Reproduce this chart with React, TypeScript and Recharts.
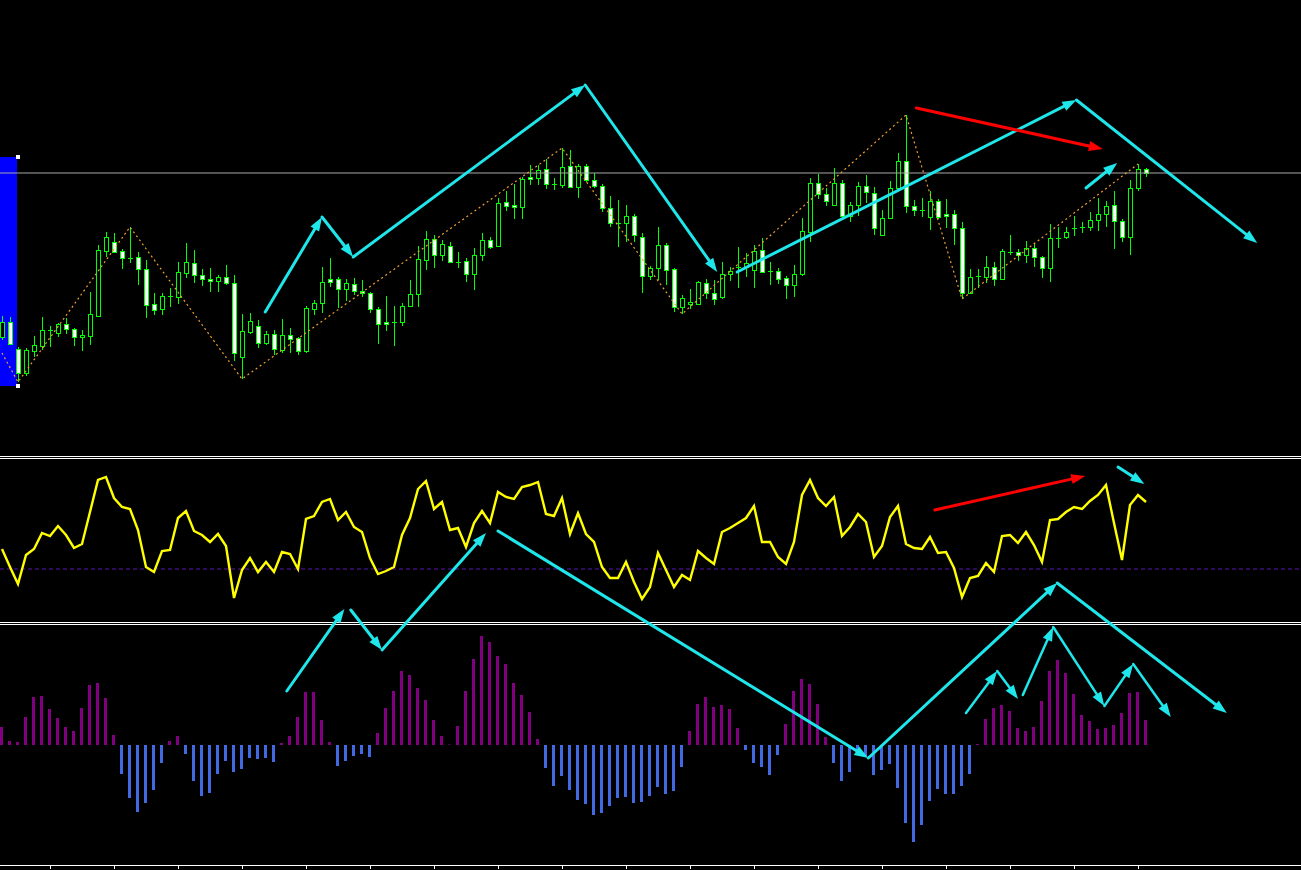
import React from "react"
import {
  ComposedChart,
  Bar,
  Line,
  XAxis,
  YAxis,
  Cell,
  ReferenceLine,
  ReferenceArea,
  ReferenceDot,
} from "recharts"

// price in points, one bar per entry
const openP = [
  118, 133, 106, 82, 104, 109, 125, 122, 131, 126,
  118, 119, 139, 204, 213, 204, 197, 198, 186, 151,
  146, 159, 158, 182, 192, 180, 176, 174, 178, 172,
  98, 123, 129, 112, 121, 105, 120, 117, 104, 146,
  152, 176, 176, 166, 171, 164, 162, 146, 133, 133,
  133, 149, 161, 195, 216, 200, 209, 193, 194, 181,
  200, 215, 209, 253, 250, 248, 278, 277, 286, 271,
  270, 289, 268, 289, 275, 269, 247, 232, 232, 239,
  218, 179, 187, 210, 186, 148, 151, 151, 172, 162,
  158, 181, 188, 188, 185, 205, 184, 184, 177, 170,
  181, 223, 272, 261, 250, 272, 239, 250, 269, 262,
  220, 237, 267, 294, 249, 245, 238, 254, 241, 241,
  227, 162, 179, 178, 188, 176, 203, 203, 200, 207,
  198, 187, 217, 218, 227, 228, 228, 235, 241, 250,
  234, 218, 267, 286,
]
const highP = [
  139, 138, 108, 107, 119, 138, 129, 132, 137, 127,
  125, 163, 210, 223, 222, 206, 228, 203, 195, 162,
  162, 167, 193, 212, 205, 186, 187, 180, 190, 180,
  141, 142, 135, 124, 125, 136, 127, 118, 149, 155,
  188, 197, 178, 176, 177, 175, 163, 148, 159, 149,
  152, 175, 209, 224, 220, 215, 213, 203, 197, 207,
  222, 218, 257, 264, 271, 278, 290, 290, 296, 277,
  307, 305, 291, 291, 282, 271, 259, 255, 250, 241,
  222, 189, 228, 212, 187, 160, 166, 174, 176, 175,
  193, 188, 208, 202, 210, 217, 193, 187, 179, 190,
  237, 277, 281, 267, 287, 275, 253, 273, 280, 268,
  245, 274, 302, 340, 255, 257, 264, 256, 256, 245,
  233, 186, 186, 199, 193, 206, 220, 206, 214, 211,
  199, 231, 228, 228, 239, 233, 243, 257, 254, 264,
  236, 275, 291, 287,
]
const lowP = [
  115, 110, 73, 79, 98, 105, 108, 118, 121, 109,
  104, 110, 138, 198, 202, 186, 192, 170, 137, 140,
  140, 148, 151, 177, 172, 169, 163, 163, 170, 94,
  76, 121, 107, 110, 100, 102, 102, 100, 102, 140,
  142, 168, 147, 154, 160, 158, 142, 111, 124, 109,
  129, 148, 148, 185, 187, 194, 192, 187, 173, 165,
  194, 206, 208, 244, 236, 236, 270, 270, 266, 265,
  267, 267, 257, 273, 267, 243, 228, 208, 213, 213,
  162, 175, 175, 170, 143, 141, 146, 150, 156, 150,
  156, 174, 167, 178, 167, 182, 170, 171, 156, 158,
  179, 213, 256, 249, 249, 237, 233, 239, 252, 220,
  220, 237, 267, 242, 239, 238, 225, 236, 227, 210,
  156, 161, 167, 172, 169, 175, 200, 194, 192, 188,
  177, 173, 207, 216, 219, 222, 224, 224, 228, 206,
  213, 200, 264, 278,
]
const closeP = [
  133, 111, 82, 105, 110, 125, 125, 131, 126, 118,
  120, 141, 205, 218, 203, 197, 197, 186, 150, 145,
  159, 159, 183, 193, 180, 176, 174, 178, 172, 102,
  124, 134, 112, 121, 106, 120, 116, 104, 147, 152,
  173, 173, 166, 172, 164, 162, 146, 131, 131, 133,
  149, 161, 196, 216, 200, 211, 193, 193, 181, 200,
  215, 208, 252, 249, 248, 276, 276, 285, 271, 271,
  288, 268, 289, 275, 269, 247, 232, 232, 239, 220,
  179, 187, 210, 185, 148, 157, 153, 173, 162, 156,
  181, 184, 188, 192, 204, 183, 184, 176, 170, 181,
  224, 272, 261, 254, 272, 239, 250, 269, 263, 227,
  237, 267, 294, 249, 245, 245, 254, 238, 239, 227,
  162, 178, 179, 188, 176, 204, 203, 200, 207, 198,
  187, 217, 217, 223, 227, 228, 235, 241, 249, 234,
  218, 267, 286, 282,
]

// zigzag pivots (bar index, price)
const zzIndex = [0, 2, 16, 30, 70, 85, 113, 120, 142]
const zzPrice = [102, 73, 228, 76, 307, 141, 340, 156, 291]

const oscillator = [
  20, 2, -15, 14, 20, 36, 33, 43, 34, 21,
  25, 57, 89, 92, 71, 62, 60, 39, 2, -3,
  18, 19, 51, 58, 38, 34, 27, 35, 23, -29,
  -1, 11, -3, 7, -3, 17, 15, 0, 50, 53,
  67, 70, 49, 57, 42, 37, 11, -5, -2, 2,
  34, 51, 80, 88, 60, 67, 39, 41, 22, 46,
  58, 46, 77, 72, 70, 82, 84, 87, 55, 53,
  71, 35, 56, 35, 27, 2, -9, -9, 7, -13,
  -30, -18, 16, -1, -18, -6, -11, 18, 11, 5,
  37, 41, 46, 51, 63, 27, 27, 12, 5, 27,
  74, 89, 71, 63, 72, 33, 42, 55, 47, 12,
  23, 52, 63, 25, 21, 20, 32, 16, 17, 1,
  -28, -9, -7, 6, -3, 33, 34, 26, 37, 24,
  7, 49, 50, 57, 62, 60, 68, 74, 84, 46,
  9, 64, 74, 67,
]

const histogram = [
  18, 4, 3, 28, 48, 49, 36, 27, 18, 14,
  37, 60, 62, 47, 10, -29, -53, -67, -58, -45,
  -18, 4, 9, -9, -36, -51, -48, -29, -16, -27,
  -24, -13, -14, -13, -17, 2, 9, 28, 53, 53,
  25, 3, -21, -16, -11, -9, -12, 12, 37, 54,
  74, 70, 57, 45, 25, 9, 0.5, 19, 54, 86,
  109, 103, 89, 81, 62, 50, 33, 6, -23, -41,
  -31, -45, -55, -59, -70, -68, -61, -53, -52, -58,
  -57, -51, -42, -49, -46, -22, 14, 41, 48, 38,
  40, 36, 17, -5, -18, -22, -30, -10, 21, 54,
  66, 61, 41, 8, -18, -36, -27, -8, -12, -30,
  -25, -19, -43, -78, -97, -80, -56, -44, -49, -49,
  -41, -29, 1, 26, 37, 40, 34, 17, 14, 18,
  44, 74, 85, 72, 51, 30, 24, 16, 17, 20,
  32, 52, 53, 25,
]

const timeTicks = [6, 14, 22, 30, 38, 46, 54, 62, 70, 78, 86, 94, 102, 110, 118, 126, 134, 142]
const bidPrice = 282

// hand-drawn arrows: [barFrom, valueFrom, barTo, valueTo]
const priceArrowsCyan = [
  [32.9, 143, 40, 238],
  [40, 238, 43.9, 198],
  [43.9, 198, 72.9, 370],
  [72.9, 370, 89.4, 183],
  [91.9, 183, 134.3, 355],
  [134.3, 355, 156.9, 212],
  [135.5, 267, 139.4, 292],
]
const priceArrowsRed = [[114.3, 347, 137.6, 306]]
const oscArrowsRed = [[116.6, 59, 135.4, 93]]
const oscArrowsCyan = [[139.5, 102, 142.8, 85]]
const histArrowsCyan = [
  [35.6, 54, 42.8, 136],
  [43.6, 135, 47.5, 95],
  [47.5, 95, 60.5, 212],
  [62, 214, 108.3, -13],
  [108.3, -13, 131.9, 162],
  [131.9, 162, 153.1, 32],
]
const histArrowsSmall = [
  [120.5, 32, 124.4, 74],
  [124.4, 74, 127, 46],
  [127.6, 50, 131.4, 118],
  [131.4, 118, 137.8, 39],
  [137.8, 39, 141.4, 81],
  [141.4, 81, 146.1, 28],
]

const CYAN = "#1ee6ea"
const RED = "#ff0000"
const X_DOMAIN: [number, number] = [-0.25, 162.375]
const MARGIN = { top: 0, right: 0, bottom: 0, left: 0 }

const bars = openP.map((o, i) => {
  const z = zzIndex.indexOf(i)
  return {
    i,
    open: o,
    high: highP[i],
    low: lowP[i],
    close: closeP[i],
    zz: z >= 0 ? zzPrice[z] : null,
    osc: oscillator[i],
    hist: histogram[i],
  }
})

function Candle(props: any) {
  const { x, y, width, height, payload } = props
  const { open, close, high, low } = payload
  const top = Math.min(y, y + height)
  const h = Math.abs(height)
  const cx = Math.round(x + width / 2)
  const k = high === low ? 0 : h / (high - low)
  const py = (v: number) => top + (high - v) * k
  const bTop = Math.round(py(Math.max(open, close)))
  const bBot = Math.round(py(Math.min(open, close)))
  const bull = close >= open
  return (
    <g>
      <line x1={cx + 0.5} x2={cx + 0.5} y1={top} y2={top + h} stroke="#00ff00" strokeWidth={1} />
      {bBot - bTop < 1 ? (
        <line x1={cx - 2} x2={cx + 3} y1={bTop + 0.5} y2={bTop + 0.5} stroke="#00ff00" strokeWidth={1} />
      ) : (
        <rect
          x={cx - 1.5}
          y={bTop + 0.5}
          width={4}
          height={bBot - bTop}
          fill={bull ? "#000000" : "#ffffff"}
          stroke="#00ff00"
          strokeWidth={1}
        />
      )}
    </g>
  )
}

function Arrow(props: any) {
  const { x1, y1, x2, y2, stroke, strokeWidth } = props
  const dx = x2 - x1
  const dy = y2 - y1
  const len = Math.hypot(dx, dy) || 1
  const ux = dx / len
  const uy = dy / len
  const hl = 14
  const hw = 5
  const bx = x2 - ux * hl
  const by = y2 - uy * hl
  const pts = `${x2},${y2} ${bx - uy * hw},${by + ux * hw} ${bx + uy * hw},${by - ux * hw}`
  return (
    <g>
      <line
        x1={x1}
        y1={y1}
        x2={bx + ux * 2}
        y2={by + uy * 2}
        stroke={stroke}
        strokeWidth={strokeWidth}
        strokeLinecap="round"
      />
      <polygon points={pts} fill={stroke} />
    </g>
  )
}

function Handle(props: any) {
  const { cx, cy } = props
  return <rect x={Math.round(cx) - 2} y={Math.round(cy) - 2} width={4} height={4} fill="#ffffff" />
}

function arrowLines(list: number[][], color: string, width: number, key: string) {
  return list.map((a, n) => (
    <ReferenceLine
      key={key + n}
      segment={[
        { x: a[0], y: a[1] },
        { x: a[2], y: a[3] },
      ]}
      stroke={color}
      strokeWidth={width}
      ifOverflow="visible"
      shape={Arrow}
    />
  ))
}

const sep = (top: number) => (
  <div style={{ position: "absolute", left: 0, top, width: 1301, height: 1, background: "#ffffff" }} />
)

const css =
  ".recharts-surface{overflow:visible}" +
  ".recharts-cartesian-axis-line,.recharts-cartesian-axis-tick-line{shape-rendering:crispEdges}"

export default function App() {
  return (
    <div style={{ position: "fixed", left: 0, top: 0, width: 1301, height: 870, background: "#000000", overflow: "hidden" }}>
      <style>{css}</style>

      {/* price window */}
      <div style={{ position: "absolute", left: 0, top: 0 }}>
        <ComposedChart width={1301} height={456} data={bars} margin={MARGIN}>
          <XAxis dataKey="i" type="number" domain={X_DOMAIN} allowDataOverflow hide />
          <YAxis domain={[-1, 455]} allowDataOverflow hide />
          <ReferenceArea x1={-0.25} x2={1.875} y1={69} y2={298} fill="#0000ff" fillOpacity={1} ifOverflow="visible" />
          <ReferenceDot x={2.05} y={298} shape={Handle} ifOverflow="visible" />
          <ReferenceDot x={2.05} y={69} shape={Handle} ifOverflow="visible" />
          <ReferenceLine y={bidPrice} stroke="#a8a8a8" strokeWidth={1} />
          <Bar dataKey={(d: any) => [d.low, d.high]} barSize={5} shape={Candle} isAnimationActive={false} />
          <Line
            dataKey="zz"
            connectNulls
            stroke="#f0a030"
            strokeWidth={1.2}
            strokeDasharray="2 3"
            dot={false}
            activeDot={false}
            isAnimationActive={false}
          />
          {arrowLines(priceArrowsCyan, CYAN, 3, "pc")}
          {arrowLines(priceArrowsRed, RED, 3, "pr")}
        </ComposedChart>
      </div>

      {/* oscillator window */}
      <div style={{ position: "absolute", left: 0, top: 458 }}>
        <ComposedChart width={1301} height={164} data={bars} margin={MARGIN}>
          <XAxis dataKey="i" type="number" domain={X_DOMAIN} allowDataOverflow hide />
          <YAxis domain={[-53, 111]} allowDataOverflow hide />
          <ReferenceLine y={0} stroke="#5a14b4" strokeDasharray="4 3" strokeWidth={1} />
          <Line
            dataKey="osc"
            stroke="#ffff00"
            strokeWidth={2.4}
            dot={false}
            activeDot={false}
            isAnimationActive={false}
          />
          {arrowLines(oscArrowsRed, RED, 3, "or")}
          {arrowLines(oscArrowsCyan, CYAN, 3, "oc")}
        </ComposedChart>
      </div>

      {sep(456)}
      {sep(458)}
      {sep(622)}
      {sep(624)}

      {/* histogram window */}
      <div style={{ position: "absolute", left: 0, top: 624 }}>
        <ComposedChart width={1301} height={246} data={bars} margin={MARGIN}>
          <XAxis
            dataKey="i"
            type="number"
            domain={X_DOMAIN}
            allowDataOverflow
            ticks={timeTicks}
            interval={0}
            height={5}
            tick={() => <g />}
            tickSize={4}
            axisLine={{ stroke: "#ffffff" }}
            tickLine={{ stroke: "#ffffff" }}
          />
          <YAxis domain={[-120, 121]} allowDataOverflow hide />
          <Bar dataKey="hist" barSize={3} isAnimationActive={false}>
            {bars.map((d) => (
              <Cell key={d.i} fill={d.hist >= 0 ? "#800080" : "#4169e1"} />
            ))}
          </Bar>
          {arrowLines(histArrowsCyan, CYAN, 3, "hc")}
          {arrowLines(histArrowsSmall, CYAN, 2.5, "hs")}
        </ComposedChart>
      </div>
    </div>
  )
}
